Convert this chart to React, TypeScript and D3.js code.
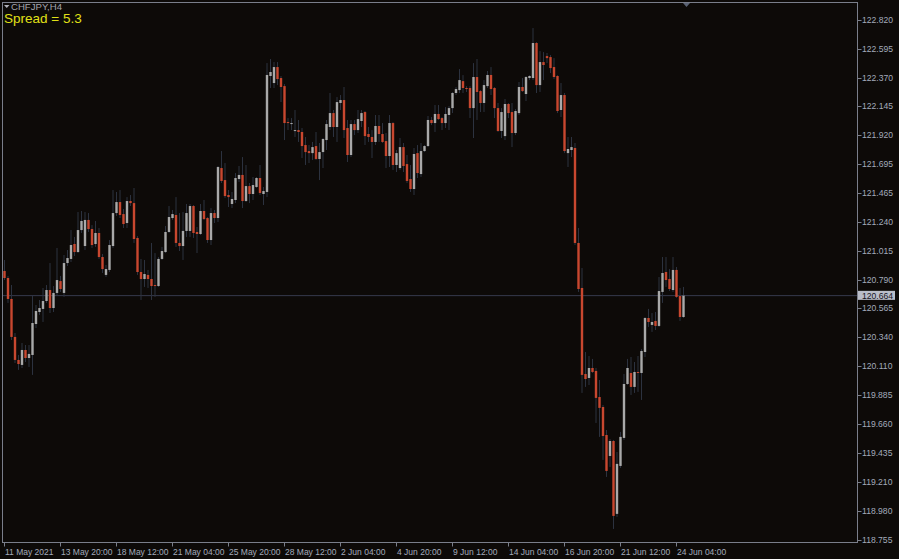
import React from "react";
import * as d3 from "d3";

// ---- data (CHFJPY H4, bars left to right) ----
const opens = [120.857,120.802,120.638,120.341,120.161,120.122,120.239,120.176,120.200,120.442,
120.536,120.560,120.622,120.708,120.567,120.685,120.778,120.685,120.919,120.951,
121.068,121.005,121.177,121.052,121.256,121.185,121.068,121.154,120.966,120.826,
120.865,121.052,121.310,121.396,121.302,121.232,121.404,121.388,121.115,120.849,
120.794,120.826,120.794,120.747,120.739,120.951,121.005,121.162,121.271,121.295,
121.076,121.052,121.170,121.170,121.365,121.162,121.146,121.326,121.271,121.099,
121.310,121.271,121.662,121.568,121.451,121.381,121.412,121.576,121.608,121.404,
121.521,121.459,121.514,121.584,121.459,121.475,122.382,122.327,122.452,122.366,
122.303,122.022,122.006,121.952,121.959,121.944,121.842,121.795,121.779,121.834,
121.733,121.787,121.881,121.983,122.092,121.983,122.171,122.194,121.975,121.764,
122.006,121.959,122.030,122.100,121.928,121.905,121.866,121.991,121.928,121.873,
121.756,122.014,121.686,121.662,121.826,121.693,121.576,121.498,121.779,121.615,
121.795,121.834,122.038,122.014,122.085,122.053,122.014,122.077,122.131,122.249,
122.272,122.342,122.288,122.288,122.131,122.374,122.264,122.171,122.303,122.390,
122.288,122.131,121.952,121.912,122.163,122.100,121.936,122.092,122.296,122.241,
122.366,122.366,122.640,122.311,122.491,122.538,122.530,122.452,122.382,122.116,
122.233,121.779,121.803,121.819,121.076,120.724,120.051,120.020,120.098,120.075,
119.871,119.793,119.574,119.410,119.527,118.957,119.332,119.551,119.973,120.059,
119.950,120.067,120.059,120.223,120.489,120.435,120.466,120.427,120.693,120.849,
120.794,120.708,120.865,120.661,120.497];

const highs = [120.943,120.818,120.747,120.372,120.200,120.294,120.278,120.278,120.661,120.591,
120.630,120.724,120.747,120.919,120.739,121.037,120.818,120.982,121.021,121.177,
121.123,121.318,121.326,121.318,121.310,121.216,121.248,121.193,120.990,120.904,
121.099,121.490,121.475,121.490,121.342,121.435,121.451,121.506,121.130,120.951,
120.943,120.865,121.076,120.997,120.966,121.045,121.209,121.365,121.334,121.435,
121.310,121.318,121.381,121.381,121.373,121.201,121.381,121.412,121.279,121.349,
121.334,121.678,121.795,121.701,121.490,121.475,121.623,121.678,121.748,121.686,
121.545,121.592,121.592,121.686,121.514,122.483,122.515,122.491,122.491,122.382,
122.319,122.053,122.053,122.116,122.038,121.975,121.905,121.842,121.866,121.944,
121.858,121.897,122.038,122.249,122.116,122.217,122.233,122.296,122.038,122.038,
122.038,122.116,122.116,122.108,121.983,121.959,122.077,122.077,122.014,121.936,
122.077,122.022,121.803,121.897,121.858,121.764,121.686,121.819,121.842,121.858,
121.842,122.069,122.061,122.155,122.155,122.061,122.139,122.147,122.257,122.296,
122.436,122.389,122.303,122.303,122.483,122.515,122.272,122.350,122.421,122.452,
122.296,122.171,122.131,122.202,122.171,122.171,122.124,122.335,122.366,122.382,
122.389,122.757,122.648,122.577,122.569,122.562,122.546,122.522,122.389,122.327,
122.249,121.905,121.905,121.858,121.193,120.880,120.223,120.192,120.169,120.098,
120.004,119.809,119.613,119.543,119.535,119.441,119.598,120.051,120.169,120.184,
120.145,120.192,120.247,120.497,120.560,120.528,120.536,120.810,120.966,120.966,
120.872,120.966,120.888,120.724,120.732];

const lows = [120.786,120.607,120.317,120.137,120.083,120.098,120.145,120.106,120.044,120.411,
120.513,120.458,120.607,120.528,120.536,120.669,120.693,120.654,120.896,120.927,
120.974,120.997,121.154,121.021,121.162,121.037,121.045,120.951,120.841,120.810,
120.849,121.037,121.287,121.271,121.193,121.193,121.365,121.076,120.826,120.630,
120.732,120.724,120.630,120.654,120.732,120.943,120.997,121.154,121.256,121.045,
121.013,120.943,121.123,121.123,121.115,120.997,121.138,121.256,121.076,121.060,
121.232,121.240,121.545,121.428,121.357,121.349,121.388,121.553,121.349,121.396,
121.388,121.412,121.506,121.451,121.373,121.435,122.288,122.288,122.311,122.178,
121.881,121.959,121.959,121.905,121.866,121.740,121.686,121.701,121.725,121.725,
121.568,121.662,121.803,121.959,121.905,121.866,122.116,121.897,121.709,121.748,
121.920,121.936,121.983,121.842,121.866,121.740,121.842,121.866,121.858,121.662,
121.670,121.647,121.631,121.647,121.631,121.545,121.475,121.451,121.584,121.592,
121.787,121.826,121.998,121.944,122.038,121.959,121.975,121.959,122.092,122.233,
122.249,122.249,122.257,122.053,121.897,122.038,122.100,122.100,122.288,122.233,
122.053,121.944,121.897,121.881,122.053,121.826,121.920,122.077,122.257,122.186,
122.350,122.350,122.249,122.257,122.350,122.483,122.405,122.358,122.092,122.061,
121.779,121.670,121.748,121.060,120.693,119.903,119.950,119.965,120.059,119.668,
119.559,119.379,119.246,119.324,118.839,118.933,119.316,119.535,119.965,119.887,
119.903,119.911,119.848,120.184,120.419,120.380,120.395,120.419,120.607,120.732,
120.700,120.693,120.646,120.466,120.489];

const closes = [120.802,120.638,120.341,120.161,120.129,120.239,120.176,120.208,120.450,120.544,
120.567,120.622,120.708,120.567,120.685,120.786,120.716,120.919,120.958,121.060,
121.005,121.177,121.248,121.256,121.185,121.060,121.154,120.966,120.872,120.872,
121.060,121.310,121.396,121.295,121.224,121.404,121.388,121.107,120.849,120.794,
120.833,120.794,120.739,120.739,120.951,121.013,121.162,121.279,121.302,121.076,
121.052,121.170,121.310,121.365,121.154,121.146,121.326,121.263,121.099,121.310,
121.271,121.670,121.561,121.443,121.435,121.420,121.584,121.608,121.404,121.521,
121.459,121.529,121.584,121.467,121.482,122.390,122.413,122.452,122.358,122.296,
122.014,122.014,122.014,121.959,121.944,121.834,121.787,121.779,121.826,121.733,
121.787,121.889,122.006,122.092,121.983,122.178,122.194,121.959,121.764,122.006,
121.959,122.045,122.092,121.912,121.905,121.866,121.991,121.928,121.866,121.756,
122.014,121.686,121.779,121.826,121.678,121.561,121.498,121.772,121.623,121.795,
121.834,122.038,122.014,122.085,122.045,122.014,122.085,122.131,122.249,122.280,
122.350,122.288,122.280,122.131,122.374,122.257,122.171,122.311,122.390,122.280,
122.131,121.952,122.100,122.163,122.092,121.936,122.108,122.296,122.264,122.374,
122.382,122.640,122.311,122.491,122.468,122.522,122.444,122.374,122.108,122.233,
121.795,121.811,121.826,121.076,120.716,120.044,120.012,120.098,120.067,119.864,
119.786,119.566,119.293,119.527,118.941,119.348,119.559,119.973,120.098,119.950,
120.067,120.059,120.231,120.489,120.458,120.458,120.427,120.700,120.841,120.786,
120.716,120.865,120.654,120.497,120.664];

const priceTicks = [122.82,122.595,122.37,122.145,121.92,121.695,121.465,121.24,121.015,
120.79,120.565,120.34,120.11,119.885,119.66,119.435,119.21,118.98,118.755];

const timeTickBars = [0,16,32,48,64,80,96,112,128,144,160,176,192];
const timeTickLabels = ["11 May 2021","13 May 20:00","18 May 12:00","21 May 04:00","25 May 20:00",
"28 May 12:00","2 Jun 04:00","4 Jun 20:00","9 Jun 12:00","14 Jun 04:00","16 Jun 20:00",
"21 Jun 12:00","24 Jun 04:00"];

const symbolLabel = "CHFJPY,H4";
const spreadLabel = "Spread = 5.3";
const currentPrice = 120.664;

const W = 899, H = 559;
const frame = { left: 2.5, top: 2.5, right: 857.5, bottom: 542.5 };
const BG = "#0d0a08";
const AXIS = "#7a7e8a";
const TEXT = "#a3aabb";
const UP = "#a9a9a9";
const DOWN = "#c8472f";
const WICK = "#2c323f";
const FONT = "'Liberation Sans', Arial, sans-serif";

export default function App() {
  const n = closes.length;
  const x = d3.scaleLinear().domain([0, n - 1]).range([4.5, 683.5]);
  const y = d3.scaleLinear().domain([118.755, 122.82]).range([539.7, 20]);
  const bodyW = 2.4;
  const fmt = d3.format(".3f");

  const bars = d3.range(n).map((i) => {
    const o = opens[i], c = closes[i];
    const up = c >= o;
    const top = y(Math.max(o, c));
    const bot = y(Math.min(o, c));
    return { i, cx: x(i), up, top, h: Math.max(1, bot - top), hi: y(highs[i]), lo: y(lows[i]) };
  });

  const cpY = y(currentPrice);

  return (
    <svg width={W} height={H} style={{ position: "absolute", left: 0, top: 0, display: "block" }}
      fontFamily={FONT}>
      <rect x={0} y={0} width={W} height={H} fill={BG} />
      {/* current price line */}
      <line x1={frame.left} x2={frame.right} y1={cpY} y2={cpY} stroke="#363a4c" strokeWidth={1} />
      {/* wicks */}
      <g>
        {bars.map((b) => (
          <line key={"w" + b.i} x1={b.cx} x2={b.cx} y1={b.hi} y2={b.lo} stroke={WICK} strokeWidth={1} />
        ))}
      </g>
      {/* bodies */}
      <g>
        {bars.map((b) => (
          <rect key={"b" + b.i} x={b.cx - bodyW / 2} y={b.top} width={bodyW} height={b.h}
            fill={b.up ? UP : DOWN} />
        ))}
      </g>
      {/* frame */}
      <rect x={frame.left} y={frame.top} width={frame.right - frame.left} height={frame.bottom - frame.top}
        fill="none" stroke={AXIS} strokeWidth={1} />
      {/* shift marker */}
      <path d={`M${683} ${3} L${690} ${3} L${686.5} ${7} Z`} fill="#5a6274" />
      {/* price axis */}
      <g fontSize={8.6} fill={TEXT}>
        {priceTicks.map((v) => (
          <g key={v}>
            <line x1={frame.right} x2={frame.right + 4} y1={Math.round(y(v)) + 0.5} y2={Math.round(y(v)) + 0.5}
              stroke={AXIS} />
            <text x={862} y={y(v)} dy="0.35em">{fmt(v)}</text>
          </g>
        ))}
      </g>
      {/* current price label */}
      <rect x={frame.right + 0.5} y={cpY - 4.8} width={37} height={9} fill="#b9bdc9" />
      <text x={862} y={cpY} dy="0.35em" fontSize={8.6} fill="#15151d">{fmt(currentPrice)}</text>
      {/* time axis */}
      <g fontSize={8.5} fill={TEXT}>
        {timeTickBars.map((bi, k) => {
          const tx = Math.round(x(bi) - 0.5) + 0.5;
          return (
            <g key={bi}>
              <line x1={tx} x2={tx} y1={frame.bottom} y2={frame.bottom + 4} stroke={AXIS} />
              <text x={tx + 0.5} y={554.5}>{timeTickLabels[k]}</text>
            </g>
          );
        })}
      </g>
      {/* header */}
      <path d="M4 5 L9.5 5 L6.75 8 Z" fill="#b0b0b8" />
      <text x={11} y={9.5} fontSize={9.6} fill="#a4a4ac">{symbolLabel}</text>
      <text x={4} y={23} fontSize={13.5} fill="#e1e117">{spreadLabel}</text>
    </svg>
  );
}
